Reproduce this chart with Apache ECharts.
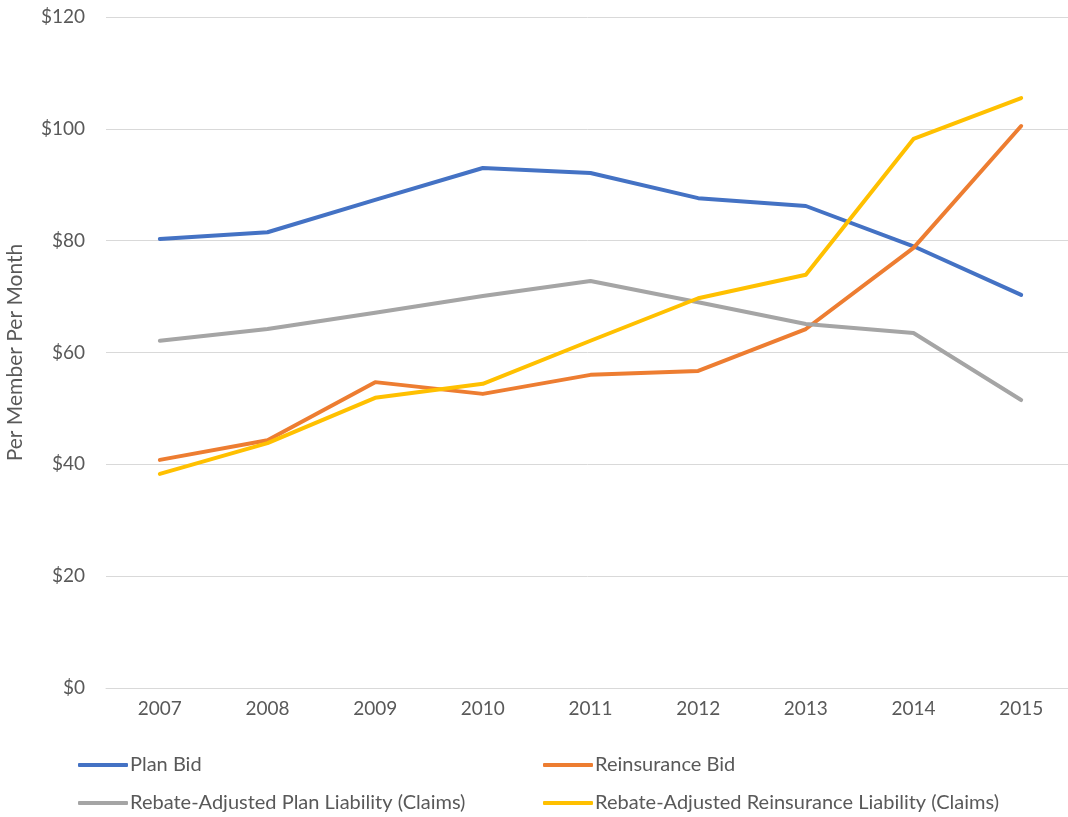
<!DOCTYPE html>
<html>
<head>
<meta charset="utf-8">
<script src="https://cdn.jsdelivr.net/npm/echarts@6/dist/echarts.min.js"></script>
<style>
  html, body { margin: 0; padding: 0; background: #fff; }
  #chart { width: 1068px; height: 817px; }
</style>
</head>
<body>
<div id="chart"></div>
<script>
  const years = ['2007', '2008', '2009', '2010', '2011', '2012', '2013', '2014', '2015'];
  const planBid = [80.3, 81.5, 87.3, 93.0, 92.1, 87.6, 86.2, 79.0, 70.3];
  const reinsuranceBid = [40.8, 44.3, 54.7, 52.6, 56.0, 56.7, 64.2, 78.7, 100.5];
  const planLiability = [62.1, 64.2, 67.1, 70.1, 72.8, 69.0, 65.1, 63.5, 51.5];
  const reinsuranceLiability = [38.3, 43.8, 51.9, 54.4, 62.1, 69.7, 73.9, 98.2, 105.5];

  const font = 'Lato, "Noto Sans", sans-serif';
  const textColor = '#595959';

  const chart = echarts.init(document.getElementById('chart'));

  // 折线公共样式
  function line(name, data, color) {
    return {
      name: name,
      type: 'line',
      data: data,
      symbol: 'none',
      lineStyle: { color: color, width: 4, cap: 'round', join: 'round' },
      itemStyle: { color: color },
      animation: false
    };
  }

  const legendCommon = {
    orient: 'vertical',
    top: 755,
    height: 62,
    padding: 0,
    itemWidth: 50,
    itemHeight: 4,
    itemGap: 18,
    icon: 'roundRect',
    textStyle: { color: textColor, fontSize: 20, lineHeight: 20, fontFamily: font, padding: [0, 0, 0, -3] }
  };

  chart.setOption({
    grid: { left: 106, right: -7, top: 17, bottom: 129, outerBoundsMode: 'none' },
    legend: [
      Object.assign({ left: 78, data: ['Plan Bid', 'Rebate-Adjusted Plan Liability (Claims)'] }, legendCommon),
      Object.assign({ left: 543, data: ['Reinsurance Bid', 'Rebate-Adjusted Reinsurance Liability (Claims)'] }, legendCommon)
    ],
    xAxis: {
      type: 'category',
      data: years,
      boundaryGap: true,
      axisLine: { lineStyle: { color: '#d9d9d9', width: 1 } },
      axisTick: { show: false },
      axisLabel: { color: textColor, fontSize: 19, fontFamily: font, margin: 11 }
    },
    yAxis: {
      type: 'value',
      min: 0,
      max: 120,
      interval: 20,
      name: 'Per Member Per Month',
      nameLocation: 'middle',
      nameGap: 80,
      nameTextStyle: { color: textColor, fontSize: 21, fontFamily: font },
      axisLine: { show: false },
      axisTick: { show: false },
      splitLine: { lineStyle: { color: '#d9d9d9', width: 1 } },
      axisLabel: { color: textColor, fontSize: 19, fontFamily: font, margin: 21, formatter: '${value}' }
    },
    series: [
      line('Plan Bid', planBid, '#4472C4'),
      line('Reinsurance Bid', reinsuranceBid, '#ED7D31'),
      line('Rebate-Adjusted Plan Liability (Claims)', planLiability, '#A5A5A5'),
      line('Rebate-Adjusted Reinsurance Liability (Claims)', reinsuranceLiability, '#FFC000')
    ]
  });
</script>
</body>
</html>
